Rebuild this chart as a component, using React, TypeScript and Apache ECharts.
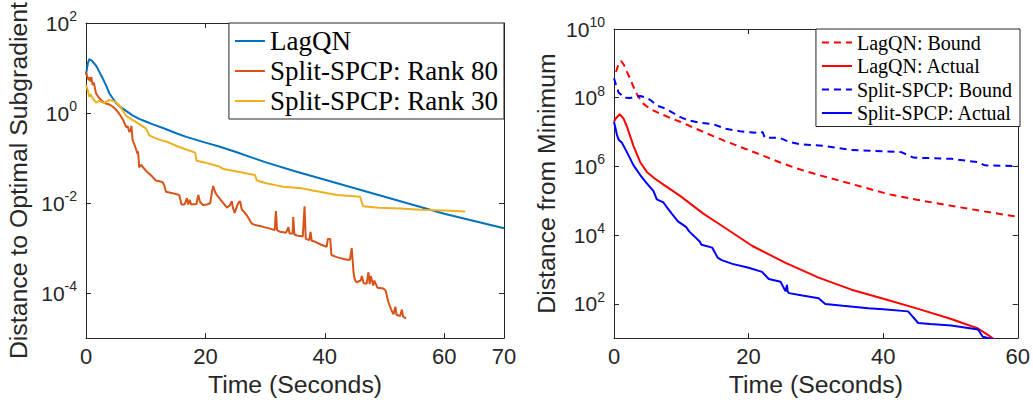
import React, { useEffect, useRef } from "react";
import * as echarts from "echarts";

// ---------- Left panel: distance to optimal subgradient ----------
const leftNames = ["LagQN", "Split-SPCP: Rank 80", "Split-SPCP: Rank 30"];
const leftColors = ["#0072BD", "#D95319", "#EDB120"];
const leftYTicks = [1e-4, 1e-2, 1, 1e2];

const lagqn: [number, number][] = [
  [0, 7.1], [0.3, 12.6], [0.55, 15.8], [1.0, 14.5], [1.7, 11.2], [2.3, 7.9], [2.8, 5.9],
  [3.4, 4.0], [3.9, 2.75], [4.5, 2.1], [5.0, 1.7], [5.8, 1.35], [6.7, 1.12], [7.8, 0.89],
  [8.9, 0.74], [10, 0.65], [11.2, 0.56], [13, 0.46], [15, 0.36], [16.8, 0.295], [20, 0.22],
  [22.3, 0.18], [25, 0.138], [30, 0.081], [35, 0.051], [40, 0.033], [45, 0.0214],
  [50, 0.0138], [55, 0.0089], [60, 0.0058], [65, 0.004], [70, 0.00275],
];

const rank80: [number, number][] = [
  [0, 8.1], [0.2, 6.6], [0.45, 5.4], [0.6, 6.2], [0.75, 5.0], [0.9, 6.3], [1.1, 4.2], [1.3, 4.8],
  [1.67, 2.75], [2.2, 2.15], [2.8, 1.8], [3.3, 1.62], [3.9, 1.55], [4.5, 1.38], [5.0, 1.2],
  [5.6, 0.95], [6.2, 0.71], [6.7, 0.49], [7.0, 0.5], [7.25, 0.38], [7.5, 0.42], [7.6, 0.52],
  [7.8, 0.25], [8.1, 0.2], [8.4, 0.155], [8.5, 0.14], [8.6, 0.126], [8.7, 0.14], [8.8, 0.1],
  [8.9, 0.062], [9.2, 0.071], [10.05, 0.052], [11, 0.04], [11.7, 0.0316], [12.8, 0.0295],
  [13.1, 0.025], [13.4, 0.0178], [14.5, 0.0166], [15.6, 0.0151], [16.0, 0.0093], [16.5, 0.0093],
  [16.9, 0.0129], [17.1, 0.0093], [17.4, 0.0117], [17.6, 0.0093], [18.5, 0.0095], [18.8, 0.0151],
  [19.1, 0.0105], [19.6, 0.0091], [20.3, 0.0093], [20.8, 0.01], [21.1, 0.0178], [21.3, 0.024],
  [21.6, 0.0178], [21.9, 0.0151], [22.5, 0.012], [23.0, 0.01], [23.6, 0.0079], [24.1, 0.0089],
  [24.4, 0.011], [24.6, 0.0079], [24.9, 0.006], [25.2, 0.0079], [25.5, 0.01], [25.8, 0.011],
  [26.1, 0.0071], [26.5, 0.0063], [26.9, 0.0054], [27.75, 0.0035], [28.5, 0.0032], [29.5, 0.003],
  [30.8, 0.0027], [31.6, 0.0025], [31.8, 0.0066], [32.0, 0.0025], [32.5, 0.0023], [33.5, 0.0022],
  [33.9, 0.0029], [34.1, 0.0021], [34.6, 0.0021], [34.7, 0.0049], [34.9, 0.002], [35.3, 0.0019],
  [36.3, 0.0018], [36.6, 0.0085], [36.8, 0.0016], [37.4, 0.0015], [37.6, 0.0023], [37.8, 0.00145],
  [38.4, 0.00138], [39.3, 0.0012], [40.3, 0.00107], [40.5, 0.0016], [40.9, 0.0016], [41.1, 0.0007],
  [42, 0.00063], [43.7, 0.00055], [44.2, 0.00055], [44.5, 0.001], [44.8, 0.00029], [45.0, 0.0002],
  [45.3, 0.000174], [46.0, 0.00019], [46.2, 0.00024], [46.5, 0.000166], [47.0, 0.000162],
  [47.3, 0.00029], [47.5, 0.000158], [47.7, 0.00024], [48.1, 0.000148], [48.3, 0.00019],
  [48.8, 0.000132], [49.8, 0.000126], [50.2, 0.000112], [50.6, 6.5e-5], [51.2, 4e-5],
  [51.5, 3.4e-5], [51.8, 5e-5], [52.0, 3.3e-5], [52.6, 3.1e-5], [52.9, 4.3e-5], [53.1, 3.0e-5],
  [53.6, 2.75e-5],
];

const rank30: [number, number][] = [
  [0, 4.2], [0.3, 3.2], [0.55, 2.3], [0.8, 2.6], [1.1, 2.15], [1.67, 1.7], [2.1, 1.85],
  [2.5, 1.8], [3.0, 1.66], [3.35, 1.78], [3.9, 1.95], [4.5, 1.86], [5.0, 1.74], [5.6, 1.45],
  [6.2, 1.12], [6.7, 0.87], [7.5, 0.74], [8.4, 0.63], [9.2, 0.54], [10.05, 0.45], [10.6, 0.32],
  [11.5, 0.28], [12.5, 0.25], [13.4, 0.234], [15, 0.19], [16.75, 0.155], [18.3, 0.132],
  [18.5, 0.087], [20, 0.079], [22.3, 0.065], [23, 0.057], [25, 0.051], [28.3, 0.042],
  [28.6, 0.0316], [30, 0.028], [31.7, 0.025], [33, 0.023], [36.1, 0.0214], [38, 0.019],
  [42, 0.0151], [45.9, 0.0138], [46.4, 0.0085], [49, 0.0079], [52.6, 0.0076], [56, 0.0071],
  [60, 0.0068], [63.5, 0.0065],
];

// ---------- Right panel: distance from minimum ----------
const rightNames = ["LagQN: Bound", "LagQN: Actual", "Split-SPCP: Bound", "Split-SPCP: Actual"];
const rightColors = ["#FF0000", "#FF0000", "#0000FF", "#0000FF"];
const rightYTicks = [1e2, 1e4, 1e6, 1e8, 1e10];

const lagqnBound: [number, number][] = [
  [0.3, 5.6e8], [0.7, 1e9], [1.05, 1.17e9], [1.5, 8.9e8], [1.92, 5.75e8], [2.5, 3.2e8],
  [3.16, 1.55e8], [3.8, 9.5e7], [4.39, 6.6e7], [5.3, 4.8e7], [6.36, 3.8e7], [8, 2.75e7],
  [9.82, 2e7], [12, 1.29e7], [14.74, 7.6e6], [17, 5e6], [19.67, 3.16e6], [22, 2.1e6],
  [24.6, 1.32e6], [27, 8.9e5], [30, 5.9e5], [35, 3.2e5], [40.8, 1.55e5], [45, 1.07e5],
  [50.1, 7.1e4], [55, 4.9e4], [60, 3.4e4],
];

const lagqnActual: [number, number][] = [
  [0, 2e7], [0.2, 2.4e7], [0.84, 3.3e7], [1.4, 2.5e7], [1.92, 1.45e7], [2.9, 3.9e6],
  [3.9, 1.32e6], [4.88, 6.9e5], [6, 4.5e5], [7.35, 2.95e5], [9.82, 1.38e5], [13.27, 4.2e4],
  [15.63, 2.1e4], [20.56, 4.8e3], [25.5, 1.55e3], [30.4, 575], [35.3, 257], [40.3, 135],
  [45.2, 71], [50.1, 36], [54.1, 19], [55.5, 12.6], [56.6, 8.9],
];

const spcpBound: [number, number][] = [
  [0, 3.7e8], [0.35, 2.2e8], [0.69, 1.4e8], [1.0, 1.26e8], [1.43, 1e8], [2.4, 9.8e7],
  [3.2, 1.07e8], [3.9, 1.12e8], [4.88, 1e8], [5.5, 8.3e7], [6.36, 5.9e7], [7.2, 5.2e7],
  [8.1, 4.3e7], [9.8, 2.75e7], [11, 2.2e7], [12.8, 1.86e7], [14.7, 1.7e7], [16.5, 1.26e7],
  [18.7, 1.05e7], [21.7, 9.3e6], [22.1, 1.0e7], [22.4, 6.8e6], [24.6, 6.8e6], [26, 5.2e6],
  [27.6, 4.4e6], [31.0, 4e6], [35.3, 3e6], [42.7, 2.6e6], [44.5, 1.8e6], [50.1, 1.66e6],
  [54.1, 1.32e6], [55.1, 1.07e6], [60, 1.02e6],
];

const spcpActual: [number, number][] = [
  [0, 2e7], [0.44, 8.3e6], [0.69, 6e6], [1.18, 4.9e6], [1.92, 2.6e6], [2.9, 1.07e6],
  [3.9, 5.6e5], [4.88, 3.2e5], [5.87, 1.9e5], [6.36, 1.1e5], [7.35, 8.9e4], [7.84, 6.5e4],
  [8.58, 4.2e4], [9.5, 2.5e4], [10.7, 1.74e4], [11.2, 1.26e4], [12.7, 6.6e3], [13, 5.2e3],
  [14.6, 4.3e3], [15.4, 2.2e3], [16, 1.86e3], [17.6, 1.45e3], [20, 1.12e3], [22.0, 850],
  [23.0, 525], [24.75, 436], [25.5, 229], [25.7, 355], [25.8, 229], [26, 204], [28, 174],
  [30.4, 145], [31.4, 98], [34, 87], [37.8, 74], [40, 69], [43.7, 60], [45.2, 27.5], [47, 25.7],
  [50.1, 23.4], [54.1, 17.8], [54.8, 11], [56.6, 8.9],
];

const AX = "#262626";
const SANS = "'Liberation Sans', Arial, Helvetica, sans-serif";
const SERIF = "'Liberation Serif', 'Times New Roman', serif";

const supFormatter = (v: number) => {
  const e = Math.round(Math.log10(v));
  return `{b|10}{s|${e}}`;
};
const richStyle = {
  b: { fontSize: 21, lineHeight: 28, fontFamily: SANS, color: AX },
  s: { fontSize: 14, lineHeight: 14, verticalAlign: "top", fontFamily: SANS, color: AX },
};

const axisLine = { show: true, onZero: false, lineStyle: { color: AX, width: 1 } };

function xAxes(grid: number, max: number) {
  const base = {
    gridIndex: grid,
    type: "value",
    min: 0,
    max,
    interval: 20,
    axisLine,
    splitLine: { show: false },
    axisTick: { show: true, inside: true, length: 5, lineStyle: { color: AX } },
  };
  return [
    {
      ...base,
      position: "bottom",
      axisLabel: { show: true, fontSize: 22, fontFamily: SANS, color: AX, margin: 7 },
      name: "Time (Seconds)",
      nameLocation: "middle",
      nameGap: 28,
      nameTextStyle: { fontSize: 24.8, fontFamily: SANS, color: AX },
    },
    { ...base, position: "top", axisLabel: { show: false } },
  ];
}

function yAxes(grid: number, min: number, max: number, ticks: number[], name: string) {
  const base = {
    gridIndex: grid,
    type: "log",
    logBase: 10,
    min,
    max,
    axisLine,
    splitLine: { show: false },
    minorTick: { show: false },
    axisTick: { show: true, inside: true, length: 5, customValues: ticks, lineStyle: { color: AX } },
  };
  return [
    {
      ...base,
      position: "left",
      axisLabel: {
        show: true,
        customValues: ticks,
        formatter: supFormatter,
        rich: richStyle,
        margin: 9,
        showMinLabel: true,
        showMaxLabel: true,
      },
      name,
      nameLocation: "middle",
      nameGap: 55,
      nameTextStyle: { fontSize: 24.8, fontFamily: SANS, color: AX },
    },
    { ...base, position: "right", axisLabel: { show: false } },
  ];
}

function lineSeries(name: string, data: [number, number][], color: string, axis: number, dashed: boolean) {
  return {
    name,
    type: "line",
    data,
    xAxisIndex: axis,
    yAxisIndex: axis,
    symbol: "none",
    showSymbol: false,
    clip: true,
    lineStyle: { color, width: 2, type: dashed ? [7, 5] : "solid" },
    itemStyle: { color },
  };
}

export default function App() {
  const ref = useRef<HTMLDivElement>(null);
  useEffect(() => {
    if (!ref.current) return;
    const chart = echarts.init(ref.current, null, { renderer: "svg" });
    chart.setOption({
      animation: false,
      backgroundColor: "#ffffff",
      grid: [
        { left: 86, top: 23, width: 418, height: 325 },
        { left: 614, top: 29, width: 406, height: 319 },
      ],
      xAxis: [...xAxes(0, 70), ...xAxes(1, 60)],
      yAxis: [
        ...yAxes(0, 1e-5, 1e2, leftYTicks, "Distance to Optimal Subgradient"),
        ...yAxes(1, 1e1, 1e10, rightYTicks, "Distance from Minimum"),
      ],
      legend: [
        {
          data: leftNames,
          orient: "vertical",
          right: 529,
          top: 23,
          itemWidth: 30,
          itemHeight: 14,
          itemGap: 2,
          padding: [4, 6, 4, 5],
          borderColor: AX,
          borderWidth: 1,
          borderRadius: 0,
          backgroundColor: "#ffffff",
          itemStyle: { opacity: 0 },
          textStyle: { fontFamily: SERIF, fontSize: 27, color: "#000", lineHeight: 28 },
        },
        {
          data: rightNames,
          orient: "vertical",
          right: 13,
          top: 29,
          itemWidth: 30,
          itemHeight: 14,
          itemGap: 2.5,
          padding: [3, 8, 3, 5],
          borderColor: AX,
          borderWidth: 1,
          borderRadius: 0,
          backgroundColor: "#ffffff",
          itemStyle: { opacity: 0 },
          textStyle: { fontFamily: SERIF, fontSize: 20, color: "#000", lineHeight: 21 },
        },
      ],
      series: [
        lineSeries(leftNames[0], lagqn, leftColors[0], 0, false),
        lineSeries(leftNames[1], rank80, leftColors[1], 0, false),
        lineSeries(leftNames[2], rank30, leftColors[2], 0, false),
        lineSeries(rightNames[0], lagqnBound, rightColors[0], 2, true),
        lineSeries(rightNames[1], lagqnActual, rightColors[1], 2, false),
        lineSeries(rightNames[2], spcpBound, rightColors[2], 2, true),
        lineSeries(rightNames[3], spcpActual, rightColors[3], 2, false),
      ],
    });
    return () => chart.dispose();
  }, []);
  return (
    <div
      ref={ref}
      style={{ position: "absolute", left: 0, top: 0, width: 1033, height: 402 }}
    />
  );
}
